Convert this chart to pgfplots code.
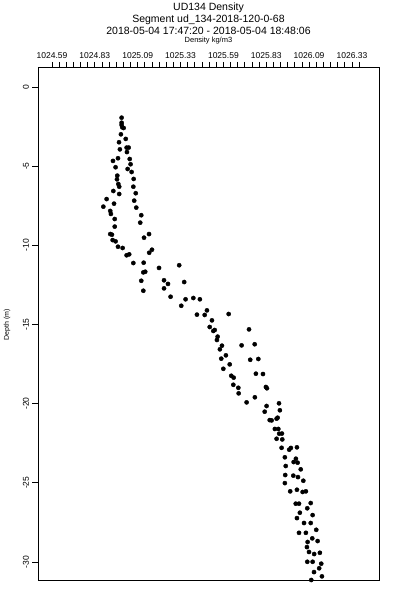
\documentclass[border=0pt]{standalone}
\usepackage{fontspec}
\setmainfont{Liberation Sans}
\usepackage{pgfplots}
\pgfplotsset{compat=1.18}
\begin{document}
\begin{tikzpicture}
\begin{axis}[
 at={(0pt,0pt)}, anchor=south west,
 width=341pt, height=512.5pt, scale only axis,
 xmin=1024.509, xmax=1026.487, ymin=-31.14, ymax=1.23,
 xtick pos=right, xticklabel pos=right,
 ytick pos=left,
 tick align=outside,
 major tick length=5.5pt, minor tick length=5.5pt,
 xtick={1024.59,1024.8386,1025.0872,1025.3358,1025.5844,1025.833,1026.0816,1026.3302},
 xticklabels={1024.59,1024.83,1025.09,1025.33,1025.59,1025.83,1026.09,1026.33},
 minor xtick={1024.6314,1024.6729,1024.7143,1024.7557,1024.7972,
   1024.8800,1024.9215,1024.9629,1025.0043,1025.0458,
   1025.1286,1025.1701,1025.2115,1025.2529,1025.2944,
   1025.3772,1025.4187,1025.4601,1025.5015,1025.5430,
   1025.6258,1025.6673,1025.7087,1025.7501,1025.7916,
   1025.8744,1025.9159,1025.9573,1025.9987,1026.0402,
   1026.1230,1026.1645,1026.2059,1026.2473,1026.2888,
   1026.3716},
 ytick={0,-5,-10,-15,-20,-25,-30},
 yticklabels={0,-5,-10,-15,-20,-25,-30},
 xticklabel style={font=\fontsize{8.5}{10}\selectfont},
 yticklabel style={font=\fontsize{8.5}{10}\selectfont, rotate=90, anchor=south},
 axis line style={line width=0.8pt},
 every tick/.style={black, line width=0.7pt},
 clip=true,
]
\addplot[only marks, mark=*, mark size=2.1pt, black] coordinates {
(1024.994,-1.94) (1024.994,-2.26) (1024.994,-2.40) (1024.998,-2.55) (1025.006,-2.59)
(1024.990,-2.99) (1025.018,-3.28) (1024.979,-3.49) (1025.023,-3.83) (1025.035,-3.83)
(1024.984,-3.94) (1025.025,-4.11) (1024.973,-4.50) (1024.944,-4.67) (1025.041,-4.55)
(1025.046,-4.88) (1024.959,-5.07) (1025.029,-5.18) (1025.052,-5.37) (1024.969,-5.60)
(1024.967,-5.83) (1025.064,-5.81) (1024.975,-6.13) (1025.062,-6.30) (1024.980,-6.30)
(1024.946,-6.57) (1024.980,-6.76) (1025.076,-6.71) (1024.907,-7.08) (1025.067,-7.18)
(1024.950,-7.37) (1024.888,-7.56) (1025.079,-7.62) (1024.928,-7.83) (1024.932,-8.02)
(1025.108,-8.10) (1024.954,-8.34) (1025.102,-8.57) (1024.954,-8.82) (1024.928,-9.29)
(1024.938,-9.33) (1025.153,-9.29) (1025.124,-9.52) (1024.942,-9.67) (1024.959,-9.75)
(1025.170,-10.28) (1025.154,-10.47) (1024.973,-10.09) (1025.000,-10.17) (1025.023,-10.63)
(1025.038,-10.57) (1025.062,-11.12) (1025.122,-11.10) (1025.328,-11.26) (1025.211,-11.43)
(1025.120,-11.71) (1025.131,-11.67) (1025.108,-12.24) (1025.240,-12.21) (1025.263,-12.44)
(1025.357,-12.32) (1025.120,-12.87) (1025.240,-12.72) (1025.278,-13.25) (1025.365,-13.41)
(1025.410,-13.33) (1025.448,-13.41) (1025.340,-13.82) (1025.431,-14.38) (1025.476,-14.40)
(1025.489,-14.11) (1025.615,-14.34) (1025.518,-14.74) (1025.505,-15.16) (1025.526,-15.41)
(1025.534,-15.35) (1025.733,-15.31) (1025.551,-15.77) (1025.547,-15.98) (1025.576,-16.34)
(1025.564,-16.57) (1025.690,-16.32) (1025.766,-16.25) (1025.599,-16.95) (1025.572,-17.16)
(1025.740,-17.23) (1025.787,-17.18) (1025.621,-17.52) (1025.584,-17.80) (1025.630,-18.24)
(1025.644,-18.36) (1025.773,-18.11) (1025.814,-18.13) (1025.642,-18.81) (1025.671,-19.00)
(1025.673,-19.35) (1025.831,-18.95) (1025.837,-19.03) (1025.767,-19.60) (1025.719,-19.92)
(1025.835,-20.15) (1025.907,-19.98) (1025.824,-20.51) (1025.912,-20.42) (1025.853,-21.04)
(1025.864,-21.06) (1025.893,-20.95) (1025.899,-20.89) (1025.883,-21.60) (1025.903,-21.60)
(1025.908,-21.90) (1025.924,-21.89) (1025.893,-22.22) (1025.926,-22.26) (1025.922,-22.79)
(1025.966,-22.91) (1025.976,-22.80) (1026.011,-22.76) (1025.941,-23.39) (1025.992,-23.69)
(1026.005,-23.48) (1026.015,-23.73) (1025.946,-23.94) (1026.033,-24.15) (1025.943,-24.51)
(1025.990,-24.55) (1026.017,-24.64) (1026.048,-24.87) (1025.941,-25.02) (1025.972,-25.54)
(1026.011,-25.44) (1026.044,-25.58) (1026.063,-25.54) (1026.004,-26.32) (1026.023,-26.32)
(1026.091,-26.28) (1026.071,-26.61) (1026.028,-26.89) (1026.102,-27.04) (1026.011,-27.23)
(1026.052,-27.54) (1026.091,-27.54) (1026.123,-27.97) (1026.023,-28.16) (1026.063,-28.16)
(1026.100,-28.51) (1026.073,-28.74) (1026.131,-28.68) (1026.069,-29.06) (1026.081,-29.37)
(1026.111,-29.50) (1026.144,-29.42) (1026.071,-29.99) (1026.102,-29.99) (1026.152,-30.11)
(1026.140,-30.40) (1026.110,-30.64) (1026.156,-30.91) (1026.094,-31.14)
};
\end{axis}
\node[font=\fontsize{10.5}{12}\selectfont] at (170.5pt,572.5pt) {UD134 Density};
\node[font=\fontsize{10.5}{12}\selectfont] at (170.5pt,560.5pt) {Segment ud\_134-2018-120-0-68};
\node[font=\fontsize{10.5}{12}\selectfont] at (170.5pt,549pt) {2018-05-04 17:47:20 - 2018-05-04 18:48:06};
\node[font=\fontsize{7.5}{9}\selectfont] at (170.5pt,539pt) {Density kg/m3};
\node[font=\fontsize{7}{8}\selectfont, rotate=90] at (-31pt,255pt) {Depth (m)};
\pgfresetboundingbox
\path (-38pt,-20pt) rectangle (362pt,580pt);
\end{tikzpicture}
\end{document}
